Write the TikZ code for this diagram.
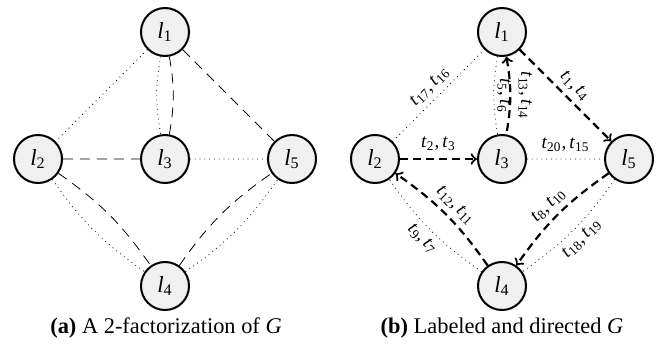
\documentclass[tikz,border=0pt]{standalone}
\usepackage{fontspec}
\setmainfont{Liberation Serif}
\newcommand{\lv}[1]{\textit{l}\textsubscript{#1}}
\newcommand{\tv}[2]{\textit{t}\textsubscript{#1},\,\textit{t}\textsubscript{#2}}

\begin{document}
\begin{tikzpicture}[x=.5pt,y=-.5pt,>=to,
	vtx/.style={circle,draw,line width=1pt,fill=gray!12,minimum size=24pt,inner sep=0pt,font=\fontsize{11.5}{13}\selectfont},
	dot/.style={dotted},
	dsh/.style={dash pattern=on 5pt off 3.5pt},
	arc/.style={line width=1.1pt,dash pattern=on 4pt off 2.5pt},
	lbl/.style={font=\fontsize{9.5}{11}\selectfont,inner sep=2.5pt}]
			\useasboundingbox (0,0) rectangle (661,354);
			\def\d{127}
			\foreach \g/\x in {a/165,b/502} {
				\path
				(\x,32) node[vtx] (\g1) {\lv1}
				(\x-\d,159) node[vtx] (\g2) {\lv2}
				(\x,159) node[vtx] (\g3) {\lv3}
				(\x,286) node[vtx] (\g4) {\lv4}
				(\x+\d,159) node[vtx] (\g5) {\lv5}
				;
			}
			\draw[dot]
			(a1)--(a2) (a3)--(a5)
			(a1) to[bend right=10] (a3)
			(a2) to[bend right=10] (a4)
			(a4) to[bend right=10] (a5);
			\draw[dsh]
			(a1)--(a5) (a2)--(a3)
			(a1) to[bend left=10] (a3)
			(a2) to[bend left=10] (a4)
			(a4) to[bend left=10] (a5);
			\draw[dot]
			(b2) -- node[lbl,sloped,above]{\tv{17}{16}} (b1)
			(b3) -- node[lbl,above,inner sep=3.5pt]{\tv{20}{15}} (b5)
			(b1) to[bend right=10] node[lbl,above,rotate=-90,inner sep=1.5pt]{\tv56} (b3)
			(b4) to[bend left=10] node[lbl,sloped,below]{\tv97} (b2)
			(b5) to[bend left=10] node[lbl,sloped,below]{\tv{18}{19}} (b4);
			\draw[arc,->] (b1) -- node[lbl,sloped,above]{\tv14} (b5);
			\draw[arc,->] (b2) -- node[lbl,above,inner sep=3.5pt]{\tv23} (b3);
			\draw[arc,<-] (b1) to[bend left=10] node[lbl,above,rotate=-90,inner sep=3.5pt]{\tv{13}{14}} (b3);
			\draw[arc,->] (b4) to[bend right=10] node[lbl,sloped,above]{\tv{12}{11}} (b2);
			\draw[arc,->] (b5) to[bend right=10] node[lbl,sloped,above]{\tv8{10}} (b4);
			\node[anchor=base,font=\fontsize{11.2}{13}\selectfont] (capa) at (166,333) {\textbf{(a)} A 2-factorization of \textit{G}};
			\node[anchor=base,font=\fontsize{11.2}{13}\selectfont] (capb) at (502,333) {\textbf{(b)} Labeled and directed \textit{G}};
		\end{tikzpicture}
\end{document}
